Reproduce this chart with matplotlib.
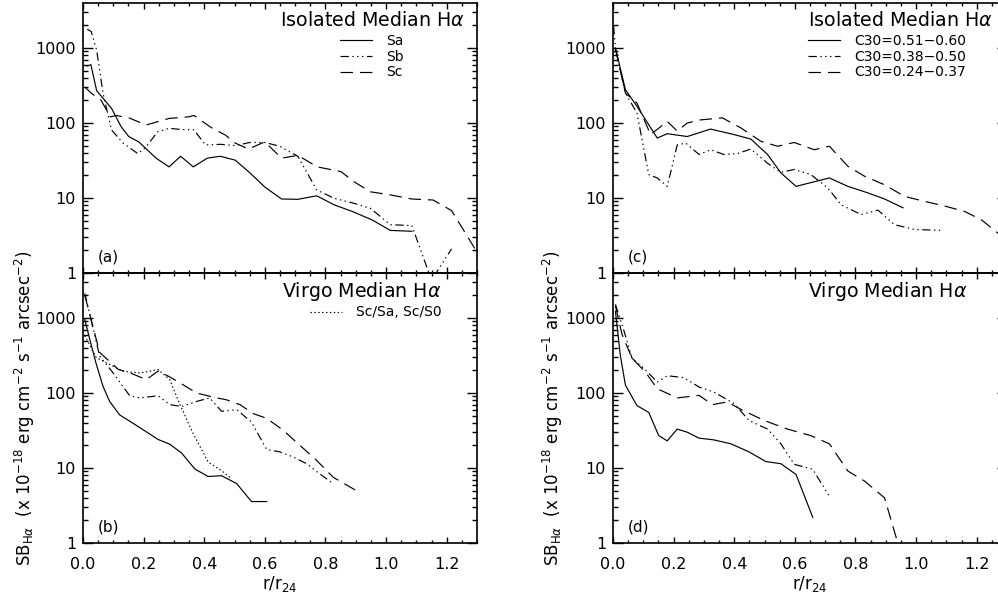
import matplotlib
matplotlib.use("Agg")
import matplotlib.pyplot as plt
from matplotlib.ticker import MultipleLocator, LogLocator, NullFormatter

# ---------------- data ----------------
# Panel (a): Isolated, by Hubble type
a_sa_x = [0.014, 0.026, 0.045, 0.094, 0.126, 0.151, 0.184, 0.241, 0.284, 0.322, 0.364, 0.41, 0.453, 0.502, 0.546, 0.60, 0.655, 0.709, 0.771, 0.829, 0.889, 0.954, 1.014, 1.085]
a_sa_y = [575, 600, 270, 157, 89, 66, 56, 34, 26, 36, 26, 34, 36, 32, 22.5, 14, 9.7, 9.6, 10.7, 8.1, 6.6, 5.1, 3.7, 3.6]
a_sb_x = [0.014, 0.027, 0.045, 0.066, 0.094, 0.132, 0.181, 0.208, 0.246, 0.284, 0.322, 0.366, 0.404, 0.453, 0.502, 0.551, 0.60, 0.649, 0.709, 0.771, 0.829, 0.894, 0.948, 1.014, 1.085, 1.15, 1.216]
a_sb_y = [1780, 1660, 940, 250, 81, 54, 39, 48, 76, 85, 82, 81, 51, 52, 50, 55, 55, 49, 36, 12.8, 9.9, 8.5, 7.3, 4.4, 4.3, 0.8, 2.1]
a_sc_x = [0.007, 0.027, 0.06, 0.09, 0.11, 0.154, 0.208, 0.284, 0.35, 0.366, 0.425, 0.47, 0.502, 0.546, 0.60, 0.655, 0.709, 0.773, 0.851, 0.894, 0.948, 1.014, 1.085, 1.155, 1.216, 1.30]
a_sc_y = [300, 250, 200, 121, 126, 116, 94, 115, 121, 126, 86, 69, 54, 45, 56, 34, 37, 26, 22.5, 16.5, 12.1, 11, 9.7, 9.4, 6.8, 1.9]

# Panel (b): Virgo, by Hubble type
b_sa_x = [0.006, 0.022, 0.044, 0.066, 0.088, 0.121, 0.165, 0.209, 0.248, 0.286, 0.325, 0.369, 0.413, 0.457, 0.507, 0.556, 0.606]
b_sa_y = [950, 525, 241, 123, 77, 51, 39.5, 30.4, 24, 20.8, 15.9, 9.7, 7.7, 7.9, 6.2, 3.57, 3.57]
b_sb_x = [0.006, 0.055, 0.099, 0.154, 0.187, 0.248, 0.286, 0.325, 0.374, 0.418, 0.457, 0.507, 0.556, 0.606, 0.65, 0.694, 0.738, 0.782, 0.826]
b_sb_y = [2130, 310, 186, 92, 86, 92, 70, 66, 77, 86, 57, 60, 41, 17.6, 16.4, 14, 11.4, 8.3, 6.2]
b_sc_x = [0.006, 0.055, 0.116, 0.16, 0.209, 0.248, 0.286, 0.33, 0.374, 0.43, 0.474, 0.518, 0.562, 0.606, 0.66, 0.716, 0.771, 0.826, 0.898]
b_sc_y = [2000, 347, 207, 182, 151, 196, 164, 129, 100, 88, 81, 70, 53, 46, 32, 20, 12.6, 7.5, 5.1]
b_scsa_x = [0.006, 0.044, 0.088, 0.132, 0.187, 0.248, 0.286, 0.32, 0.363, 0.413, 0.457, 0.485]
b_scsa_y = [580, 296, 240, 195, 185, 205, 151, 70, 29, 12, 9.2, 7.5]

# Panel (c): Isolated, by concentration C30
c_hi_x = [0.008, 0.041, 0.079, 0.146, 0.179, 0.245, 0.322, 0.40, 0.455, 0.51, 0.554, 0.604, 0.714, 0.775, 0.841, 0.896, 0.957]
c_hi_y = [1000, 278, 167, 63, 72, 66, 83, 70, 61, 38, 21.6, 14.3, 18.5, 14.3, 11.7, 9.7, 7.4]
c_mid_x = [0.002, 0.008, 0.041, 0.079, 0.118, 0.146, 0.179, 0.212, 0.24, 0.284, 0.322, 0.366, 0.41, 0.455, 0.51, 0.554, 0.598, 0.653, 0.709, 0.753, 0.819, 0.874, 0.929, 0.996, 1.084]
c_mid_y = [1950, 1000, 250, 136, 20.5, 18.5, 14.3, 51, 54, 38, 44, 38, 39, 45, 29, 22, 24, 20.5, 13.6, 8.1, 6.0, 6.9, 4.4, 3.8, 3.7]
c_lo_x = [0.008, 0.041, 0.079, 0.124, 0.179, 0.212, 0.245, 0.289, 0.361, 0.422, 0.488, 0.543, 0.598, 0.664, 0.714, 0.775, 0.83, 0.896, 0.962, 1.029, 1.095, 1.161, 1.216, 1.27, 1.30]
c_lo_y = [970, 250, 185, 70, 105, 78, 100, 110, 117, 86, 57, 49, 55, 44, 49, 26.5, 19.5, 15, 10.5, 9, 7.8, 6.6, 5.1, 3.4, 2.8]

# Panel (d): Virgo, by concentration C30
d_hi_x = [0.008, 0.024, 0.041, 0.079, 0.118, 0.151, 0.179, 0.212, 0.245, 0.284, 0.333, 0.389, 0.449, 0.504, 0.554, 0.604, 0.659]
d_hi_y = [1230, 320, 127, 68, 55, 27, 23, 33, 30, 25, 23.7, 21, 16.4, 12.2, 11.4, 8.2, 2.2]
d_mid_x = [0.008, 0.035, 0.063, 0.102, 0.146, 0.179, 0.234, 0.284, 0.333, 0.40, 0.449, 0.51, 0.554, 0.598, 0.659, 0.714]
d_mid_y = [1520, 700, 290, 213, 140, 170, 160, 120, 103, 72, 43, 33, 21, 11.2, 9.6, 4.2]
d_lo_x = [0.008, 0.03, 0.063, 0.107, 0.146, 0.212, 0.284, 0.328, 0.377, 0.427, 0.499, 0.576, 0.653, 0.714, 0.775, 0.83, 0.896, 0.935]
d_lo_y = [1450, 600, 290, 190, 114, 86, 93, 70, 76, 59, 43, 33, 27, 21, 9.1, 6.7, 4.0, 1.16]

xtick_vals = [0.0, 0.2, 0.4, 0.6, 0.8, 1.0, 1.2]
xtick_labels = ["0.0", "0.2", "0.4", "0.6", "0.8", "1.0", "1.2"]
ytick_vals = [1, 10, 100, 1000]
ytick_labels = ["1", "10", "100", "1000"]

legend_type = ["Sa", "Sb", "Sc"]
legend_c30 = ["C30=0.51\u22120.60", "C30=0.38\u22120.50", "C30=0.24\u22120.37"]
legend_virgo = ["Sc/Sa, Sc/S0"]

# ---------------- style ----------------
plt.rcParams["font.family"] = ["DejaVu Sans"]
plt.rcParams["mathtext.fontset"] = "dejavusans"
plt.rcParams["lines.scale_dashes"] = False

SOLID = "-"
DASHDOT3 = (0, (6, 2.5, 1, 2.5, 1, 2.5, 1, 2.5))
DASHED = (0, (9, 5))
DOTTED = (0, (1, 1.8))
LW = 0.85

W, H = 998, 605
fig = plt.figure(figsize=(W / 100, H / 100), dpi=100)
fig.patch.set_facecolor("white")

def fx(px):
    return px / W

def fy(py):
    return 1 - py / H

col_left = [83, 613]
pw = 394
rows = [(3, 273), (273, 543)]

def make_ax(col, row):
    x0 = col_left[col]
    top, bot = rows[row]
    ax = fig.add_axes([fx(x0), fy(bot), pw / W, (bot - top) / H])
    ax.set_xlim(0, 1.3)
    ax.set_yscale("log")
    ax.set_ylim(1, 3981)
    ax.set_facecolor("none")
    for s in ax.spines.values():
        s.set_linewidth(1.2)
    ax.xaxis.set_major_locator(MultipleLocator(0.2))
    ax.xaxis.set_minor_locator(MultipleLocator(0.05))
    ax.set_yticks(ytick_vals)
    ax.set_yticklabels(ytick_labels)
    ax.yaxis.set_minor_locator(LogLocator(base=10, subs=range(2, 10)))
    ax.yaxis.set_minor_formatter(NullFormatter())
    ax.tick_params(axis="both", which="both", direction="in", top=True, right=True,
                   labelsize=11.5, width=1.0, colors="black")
    ax.tick_params(axis="y", which="major", length=7, pad=5)
    ax.tick_params(axis="y", which="minor", length=3.5)
    ax.tick_params(axis="x", which="major", length=4.5, pad=10)
    ax.tick_params(axis="x", which="minor", length=2.5)
    if row == 0:
        ax.set_xticklabels([])
    else:
        ax.set_xticks(xtick_vals)
        ax.set_xticklabels(xtick_labels)
    return ax

ax_a = make_ax(0, 0)
ax_b = make_ax(0, 1)
ax_c = make_ax(1, 0)
ax_d = make_ax(1, 1)

# panel a
la1, = ax_a.plot(a_sa_x, a_sa_y, color="black", lw=LW, ls=SOLID)
la2, = ax_a.plot(a_sb_x, a_sb_y, color="black", lw=LW, ls=DASHDOT3)
la3, = ax_a.plot(a_sc_x, a_sc_y, color="black", lw=LW, ls=DASHED)
# panel b
ax_b.plot(b_sa_x, b_sa_y, color="black", lw=LW, ls=SOLID)
ax_b.plot(b_sb_x, b_sb_y, color="black", lw=LW, ls=DASHDOT3)
ax_b.plot(b_sc_x, b_sc_y, color="black", lw=LW, ls=DASHED)
lb4, = ax_b.plot(b_scsa_x, b_scsa_y, color="black", lw=LW, ls=DOTTED)
# panel c
lc1, = ax_c.plot(c_hi_x, c_hi_y, color="black", lw=LW, ls=SOLID)
lc2, = ax_c.plot(c_mid_x, c_mid_y, color="black", lw=LW, ls=DASHDOT3)
lc3, = ax_c.plot(c_lo_x, c_lo_y, color="black", lw=LW, ls=DASHED)
# panel d
ax_d.plot(d_hi_x, d_hi_y, color="black", lw=LW, ls=SOLID)
ax_d.plot(d_mid_x, d_mid_y, color="black", lw=LW, ls=DASHDOT3)
ax_d.plot(d_lo_x, d_lo_y, color="black", lw=LW, ls=DASHED)

title_kw = dict(fontsize=13.7, color="black")
ax_a.text(0.97, 0.937, r"Isolated Median H$\alpha$", transform=ax_a.transAxes, ha="right", va="center", **title_kw)
ax_c.text(0.964, 0.937, r"Isolated Median H$\alpha$", transform=ax_c.transAxes, ha="right", va="center", **title_kw)
ax_b.text(0.505, 0.933, r"Virgo Median H$\alpha$", transform=ax_b.transAxes, ha="left", va="center", **title_kw)
ax_d.text(0.495, 0.933, r"Virgo Median H$\alpha$", transform=ax_d.transAxes, ha="left", va="center", **title_kw)

for ax, lab in [(ax_a, "(a)"), (ax_b, "(b)"), (ax_c, "(c)"), (ax_d, "(d)")]:
    ax.text(0.038, 0.058, lab, transform=ax.transAxes, ha="left", va="center", fontsize=11)

leg_kw = dict(frameon=False, fontsize=10, handlelength=2.3, handletextpad=1.0,
              labelspacing=0.12, borderpad=0, borderaxespad=0, loc="upper left")
ax_a.legend([la1, la2, la3], legend_type, bbox_to_anchor=(0.652, 0.885), **leg_kw)
ax_c.legend([lc1, lc2, lc3], legend_c30, bbox_to_anchor=(0.495, 0.885), **leg_kw)
ax_b.legend([lb4], legend_virgo, bbox_to_anchor=(0.576, 0.88), **leg_kw)

ylab = r"SB$_{\mathrm{H}\alpha}$  (x 10$^{-18}$ erg cm$^{-2}$ s$^{-1}$ arcsec$^{-2}$)"
fig.text(fx(25), fy(408), ylab, rotation=90, ha="center", va="center", fontsize=12)
fig.text(fx(553), fy(408), ylab, rotation=90, ha="center", va="center", fontsize=12)

fig.text(fx(280), fy(584), r"r/r$_{24}$", ha="center", va="center", fontsize=12)
fig.text(fx(810), fy(584), r"r/r$_{24}$", ha="center", va="center", fontsize=12)

fig.savefig("out.png", dpi=100, facecolor="white")
